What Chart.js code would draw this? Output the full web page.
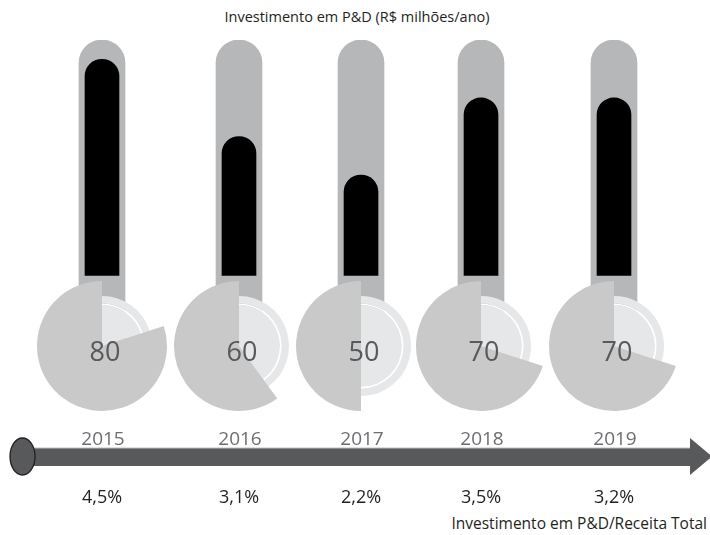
<!DOCTYPE html>
<html>
<head>
<meta charset="utf-8">
<script src="https://cdn.jsdelivr.net/npm/chart.js@4.4.0/dist/chart.umd.min.js"></script>
<style>
  body { margin: 0; background: #fff; }
  #wrap { position: relative; width: 710px; height: 535px; overflow: hidden; font-family: 'Open Sans', sans-serif; }
  .abs { position: absolute; }
  .titulo { top: 7px; left: 0; width: 714px; text-align: center; font-size: 14.5px; color: #231f20; }
  .rodape { top: 512px; left: 420px; width: 287px; text-align: right; font-size: 15.5px; color: #231f20; }
  .valor { width: 80px; text-align: center; font-size: 27px; font-weight: 400; color: #58595b; line-height: 30px; }
  .ano { width: 80px; text-align: center; font-size: 19px; font-weight: 400; color: #6d6e71; line-height: 22px; }
  .pct { width: 80px; text-align: center; font-size: 18px; color: #231f20; line-height: 22px; }
</style>
</head>
<body>
<div id="wrap">
  <div class="abs titulo">Investimento em P&amp;D (R$ milhões/ano)</div>
  <svg class="abs" style="left:0;top:0" width="710" height="535">
    <rect x="20" y="448" width="672" height="18" fill="#58595b"/>
    <line x1="30" y1="448" x2="690" y2="448" stroke="#bcbec0" stroke-width="1"/>
    <polygon points="690,438 712,456.5 690,475" fill="#58595b"/>
    <ellipse cx="22.5" cy="456.5" rx="12.5" ry="18.5" fill="#58595b" stroke="#231f20" stroke-width="1.3"/>
  </svg>
  <div class="abs rodape">Investimento em P&amp;D/Receita Total</div>
</div>
<script>
// dados
const anos = ['2015', '2016', '2017', '2018', '2019'];
const investimento = [80, 60, 50, 70, 70];        // R$ milhões/ano
const receitaPct = [4.5, 3.1, 2.2, 3.5, 3.2];      // % da receita total

// layout das colunas (centro em px)
const centros = [102, 239, 361, 481, 614];
const Y_MIN = 6, Y_MAX = 85, BASE_BARRA = 24;

const wrap = document.getElementById('wrap');

function addCanvas(left, top, w, h) {
  const c = document.createElement('canvas');
  c.width = w; c.height = h;
  c.style.position = 'absolute';
  c.style.left = left + 'px';
  c.style.top = top + 'px';
  c.style.width = w + 'px';
  c.style.height = h + 'px';
  wrap.appendChild(c);
  return c;
}

function addText(cls, txt, cx, top) {
  const d = document.createElement('div');
  d.className = 'abs ' + cls;
  d.textContent = txt;
  d.style.left = (cx - 40) + 'px';
  d.style.top = top + 'px';
  wrap.appendChild(d);
}

const semInteracao = {
  responsive: false,
  animation: false,
  events: [],
  plugins: { legend: { display: false }, tooltip: { enabled: false } }
};

anos.forEach(function(ano, i) {
  const cx = centros[i];
  const v = investimento[i];
  const resto = 100 - v;

  // termometro (tubo cinza + barra preta)
  new Chart(addCanvas(cx - 65, 40, 130, 305), {
    type: 'bar',
    data: {
      labels: [ano],
      datasets: [
        {
          data: [v],
          base: BASE_BARRA,
          backgroundColor: '#000000',
          barThickness: 34,
          borderRadius: { topLeft: 17, topRight: 17 },
          grouped: false
        },
        {
          data: [Y_MAX],
          base: Y_MIN,
          backgroundColor: '#b6b7b9',
          barThickness: 46,
          borderRadius: { topLeft: 23, topRight: 23 },
          grouped: false
        }
      ]
    },
    options: Object.assign({}, semInteracao, {
      layout: { padding: 0 },
      scales: {
        x: { display: false },
        y: { display: false, min: Y_MIN, max: Y_MAX }
      }
    })
  });

  // disco claro do bulbo (raio 50, anel branco em 42)
  new Chart(addCanvas(cx - 70, 276, 140, 140), {
    type: 'pie',
    data: {
      labels: ['resto', ano],
      datasets: [
        { data: [resto, v], backgroundColor: ['#e6e7e8', '#e6e7e8'], borderWidth: 0, weight: 7.5 },
        { data: [resto, v], backgroundColor: ['#ffffff', '#ffffff'], borderWidth: 0, weight: 1.5 },
        { data: [resto, v], backgroundColor: ['#e6e7e8', '#e6e7e8'], borderWidth: 0, weight: 41 }
      ]
    },
    options: Object.assign({}, semInteracao, { layout: { padding: 20 } })
  });

  // setor do bulbo (raio 65)
  new Chart(addCanvas(cx - 70, 276, 140, 140), {
    type: 'pie',
    data: {
      labels: ['resto', ano],
      datasets: [
        { data: [resto, v], backgroundColor: ['rgba(0,0,0,0)', '#c9c9c9'], borderWidth: 0 }
      ]
    },
    options: Object.assign({}, semInteracao, { layout: { padding: 5 } })
  });

  addText('valor', String(v), cx + 3, 336);
  addText('ano', ano, cx + 1, 427);
  addText('pct', receitaPct[i].toFixed(1).replace('.', ',') + '%', cx, 485);
});
</script>
</body>
</html>
